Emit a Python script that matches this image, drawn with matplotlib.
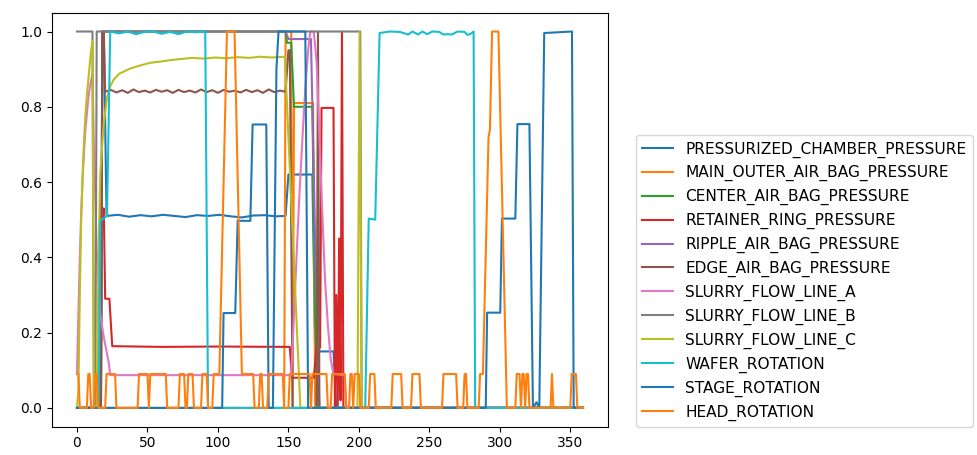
import matplotlib
matplotlib.use("Agg")
import matplotlib.pyplot as plt

labels = [
    "PRESSURIZED_CHAMBER_PRESSURE", "MAIN_OUTER_AIR_BAG_PRESSURE", "CENTER_AIR_BAG_PRESSURE",
    "RETAINER_RING_PRESSURE", "RIPPLE_AIR_BAG_PRESSURE", "EDGE_AIR_BAG_PRESSURE",
    "SLURRY_FLOW_LINE_A", "SLURRY_FLOW_LINE_B", "SLURRY_FLOW_LINE_C",
    "WAFER_ROTATION", "STAGE_ROTATION", "HEAD_ROTATION",
]

# values (normalised 0..1), knots along the sample index
pressurized_x = [0, 17, 18, 19, 21, 29, 37, 45, 53, 61, 69, 77, 85, 93, 101, 109, 117, 125, 133, 141,
                 148, 150, 167, 169, 182, 184, 359]
pressurized_y = [0, 0, 1.0, 1.0, 0.51, 0.513, 0.508, 0.512, 0.509, 0.513, 0.51, 0.507, 0.512, 0.51, 0.513,
                 0.509, 0.506, 0.511, 0.512, 0.509, 0.51, 0.62, 0.62, 0.15, 0.15, 0, 0]

main_outer_x = [0, 147, 148, 152, 153, 154, 167.5, 169, 359]
main_outer_y = [0, 0, 1.0, 1.0, 0, 0.81, 0.81, 0, 0]

center_x = [0, 17, 18, 148, 149, 152, 154, 167, 169, 171, 359]
center_y = [0, 0, 1.0, 1.0, 0.97, 0.97, 0.8, 0.8, 0.24, 0, 0]

retainer_x = [0, 16, 17, 18, 19, 20, 23, 25, 60, 100, 151, 152.5, 168, 170, 172.5, 173.5, 182, 183, 184,
              185, 186, 187, 188, 189, 359]
retainer_y = [0, 0, 0.55, 0.5, 0.53, 0.29, 0.29, 0.164, 0.162, 0.163, 0.162, 0.08, 0.08, 0.16, 0.16,
              0.797, 0.797, 0, 0.3, 0, 0.45, 0.02, 1.0, 0, 0]

ripple_x = [0, 17, 18, 148, 150, 166, 170, 172, 359]
ripple_y = [0, 0, 1.0, 1.0, 0.98, 0.98, 0.27, 0, 0]

edge_x = [0, 17, 18, 19, 20, 24, 28, 32, 36, 40, 44, 48, 52, 56, 60, 64, 68, 72, 76, 80, 84, 88, 92, 96,
          100, 104, 108, 112, 116, 120, 124, 128, 132, 136, 140, 144, 148, 150, 151, 153, 170, 171, 172, 359]
edge_y = [0, 0, 1.0, 1.0, 0.84,
          0.845, 0.838, 0.844, 0.837, 0.846, 0.839, 0.843, 0.838, 0.845, 0.840, 0.844, 0.837, 0.845,
          0.839, 0.843, 0.838, 0.846, 0.839, 0.844, 0.837, 0.845, 0.840, 0.843, 0.838, 0.845, 0.839,
          0.844, 0.837, 0.846, 0.839, 0.843,
          0.84, 0.95, 0.95, 0, 0, 1.0, 0, 0]

slurry_a_x = [0, 1, 2, 3, 4, 5, 6, 7, 8, 9, 10, 11, 12, 14, 16.5, 18.9, 21, 22.4, 23.6,
              152, 154, 156, 158, 160, 162, 164, 165.5, 168, 170, 172, 174, 176, 178, 180, 182, 190, 191, 359]
slurry_a_y = [0.09, 0.25, 0.4, 0.52, 0.61, 0.68, 0.74, 0.78, 0.82, 0.85, 0.87, 0.886, 0.7, 0.42, 0.25,
              0.19, 0.15, 0.123, 0.087, 0.087, 0.25, 0.42, 0.58, 0.72, 0.85, 0.95, 1.0, 1.0, 0.92, 0.72,
              0.52, 0.34, 0.22, 0.13, 0.09, 0.087, 0, 0]

slurry_b_x = [0, 11, 12, 13, 14, 201, 202, 359]
slurry_b_y = [1, 1, 0, 0, 1, 1, 0, 0]

slurry_c_x = [0, 1, 2, 3, 4, 5, 6, 7, 8, 9, 10, 11, 12, 13, 14, 15.4, 16.5, 18.9, 21.3, 23.6, 26,
              30, 38, 45, 52, 59, 66, 74, 82, 90, 98, 106, 114, 122, 130, 138, 147.5, 158.5, 199, 200.5, 202, 359]
slurry_c_y = [0, 0.05, 0.3, 0.5, 0.62, 0.71, 0.78, 0.83, 0.87, 0.91, 0.95, 0.975, 0, 0, 0.01,
              0.425, 0.62, 0.753, 0.824, 0.855, 0.872,
              0.888, 0.902, 0.91, 0.917, 0.92, 0.924, 0.927, 0.93, 0.928, 0.931, 0.929, 0.932, 0.93, 0.933, 0.931,
              0.933, 0, 0, 1.0, 0, 0]

wafer_x = [0, 15.4, 16.5, 21.3, 23.6, 30, 36, 42, 48, 54, 60, 66, 72, 78, 84, 91, 93,
           204.5, 207, 211.6, 214.7, 222, 229, 235, 238, 242, 245, 248.5, 252, 257, 260, 263, 266, 270,
           275, 277, 279, 281.4, 282.5, 359]
wafer_y = [0, 0, 0.497, 0.51, 1.0, 0.995, 1.0, 0.993, 0.999, 1.0, 0.994, 0.999, 0.993, 1.0, 0.998, 1.0, 0,
           0, 0.503, 0.5, 0.996, 1.0, 0.999, 0.992, 1.0, 0.992, 1.0, 0.993, 1.0, 0.999, 0.992, 0.993, 0.992,
           1.0, 0.999, 0.991, 0.993, 1.0, 0, 0]

stage_x = [0, 103, 104, 112.3, 114, 123, 124.6, 134.3, 136, 139, 141.5, 143, 162, 164,
           290, 291, 300.3, 301.5, 311, 312.5, 321, 323.5, 326, 328, 331.5, 351.2, 352.4, 359]
stage_y = [0, 0, 0.252, 0.252, 0.497, 0.497, 0.753, 0.753, 0, 0, 0.9, 1.0, 1.0, 0,
           0, 0.253, 0.253, 0.503, 0.503, 0.754, 0.754, 0, 0.015, 0, 0.996, 1.0, 0, 0]

head_x = [0, 1, 2, 7, 8, 9, 10, 12, 13, 14, 15, 20, 21, 27, 28, 43, 44, 50, 51, 52, 63, 64, 72, 73, 76,
          77, 78, 79, 82, 83, 88, 89, 92, 93, 96, 97, 101, 106.4, 111.8, 117, 125, 126, 129, 130, 131, 132,
          135, 136, 146, 147, 150, 151, 165, 166, 167, 177, 178, 180, 181, 190, 191, 193, 194, 195, 196, 197,
          200, 201, 207, 208, 211, 212, 223, 224, 230, 231, 237, 238, 243, 244, 259, 260, 269, 270, 274, 275,
          276, 277, 285, 286, 288, 292, 293, 294.5, 299, 305, 311, 312, 314, 315, 316, 317, 318, 319, 320,
          321, 336, 337, 338, 350, 351, 354, 355, 359]
head_y = [0.09, 0.09, 0, 0, 0.09, 0.09, 0, 0, 0.09, 0.09, 0, 0, 0.09, 0.09, 0, 0, 0.09, 0.09, 0, 0.09,
          0.09, 0, 0, 0.09, 0.09, 0, 0, 0.09, 0.09, 0, 0, 0.09, 0.09, 0, 0, 0.09, 0.09, 1.0, 1.0, 0.09,
          0.09, 0, 0, 0.09, 0.09, 0, 0, 0.09, 0.09, 0, 0, 0.09, 0.09, 0, 0.09, 0.09, 0, 0, 0.09, 0.09,
          0, 0, 0.09, 0.09, 0, 0.09, 0.09, 0, 0, 0.09, 0.09, 0, 0, 0.09, 0.09, 0, 0, 0.09, 0.09, 0,
          0, 0.09, 0.09, 0, 0, 0.09, 0.09, 0, 0, 0.09, 0.09, 0.72, 0.74, 1.0, 1.0, 0, 0, 0.09, 0.09, 0,
          0.09, 0.09, 0, 0.09, 0.09, 0, 0, 0.09, 0, 0, 0.09, 0.09, 0, 0]

series = [
    (pressurized_x, pressurized_y), (main_outer_x, main_outer_y), (center_x, center_y),
    (retainer_x, retainer_y), (ripple_x, ripple_y), (edge_x, edge_y),
    (slurry_a_x, slurry_a_y), (slurry_b_x, slurry_b_y), (slurry_c_x, slurry_c_y),
    (wafer_x, wafer_y), (stage_x, stage_y), (head_x, head_y),
]

fig = plt.figure(figsize=(9.77, 4.55), dpi=100)
ax = fig.add_axes([0.0529, 0.0622, 0.5697, 0.9099])

for (xs, ys), label in zip(series, labels):
    ax.plot(xs, ys, label=label)

ax.legend(loc="lower left", bbox_to_anchor=(1.05, 0), borderaxespad=0, fontsize=11.1)

fig.savefig("out.png", dpi=100)
